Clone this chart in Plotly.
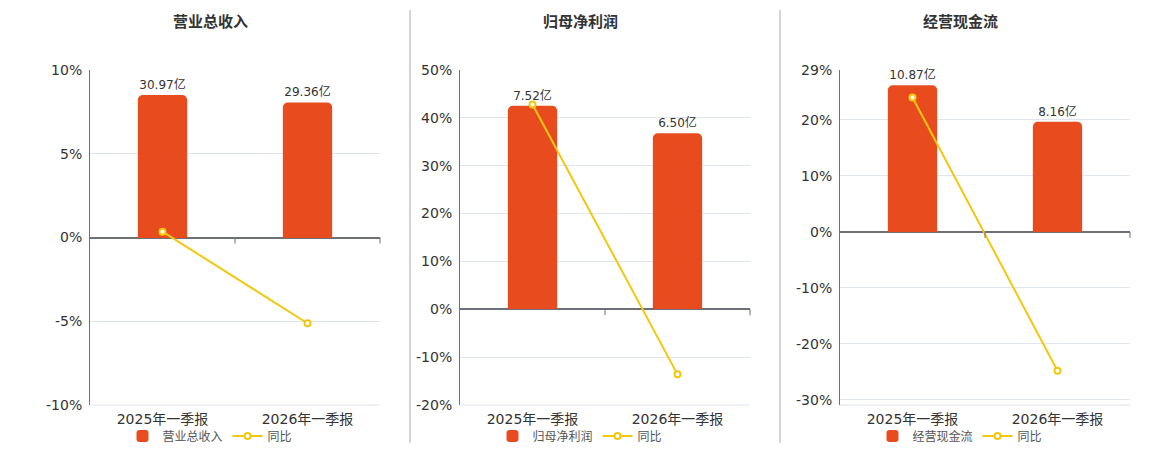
import plotly.graph_objects as go

categories = ["2025年一季报", "2026年一季报"]

titles = ["营业总收入", "归母净利润", "经营现金流"]
bar_values = [[30.97, 29.36], [7.52, 6.50], [10.87, 8.16]]
bar_labels = [["30.97亿", "29.36亿"], ["7.52亿", "6.50亿"], ["10.87亿", "8.16亿"]]
yoy_values = [[0.35, -5.12], [42.8, -13.6], [24.0, -24.8]]

y_ranges = [[-10, 10], [-20, 50], [-30.9, 28.9]]
y_ticks = [[-10, -5, 0, 5, 10], [-20, -10, 0, 10, 20, 30, 40, 50], [-30, -20, -10, 0, 10, 20, 28.9]]
y_ticktext = [["-10%", "-5%", "0%", "5%", "10%"],
              ["-20%", "-10%", "0%", "10%", "20%", "30%", "40%", "50%"],
              ["-30%", "-20%", "-10%", "0%", "10%", "20%", "29%"]]
bar_ranges = [[-36.2, 36.4], [-3.55, 8.84], [-12.8, 12.0]]

BAR = "#E84C1E"
LINE = "#F2C80F"
FONT = "DejaVu Sans, Noto Sans CJK SC, sans-serif"

x_domains = [[90 / 1160, 380 / 1160], [460 / 1160, 750 / 1160], [840 / 1160, 1130 / 1160]]
title_x = [210 / 1160, 580 / 1160, 960 / 1160]
y_domain = [1 - 405 / 450, 1 - 70 / 450]

fig = go.Figure()
layout = dict(
    width=1160, height=450, margin=dict(l=0, r=0, t=0, b=0, autoexpand=False),
    paper_bgcolor="white", plot_bgcolor="white",
    font=dict(family=FONT, color="#333"),
    barcornerradius=5,
    shapes=[], annotations=[],
)

for i in range(3):
    n = i + 1
    xa = "x" if n == 1 else f"x{n}"
    ybar = "y" if i == 0 else f"y{2 * i + 1}"
    ypct = f"y{2 * i + 2}"
    leg = "legend" if n == 1 else f"legend{n}"
    fig.add_trace(go.Bar(
        x=categories, y=bar_values[i], name=titles[i], xaxis=xa, yaxis=ybar,
        marker=dict(color=BAR, line=dict(width=0)), width=0.34,
        text=bar_labels[i], textposition="outside", cliponaxis=False,
        textfont=dict(size=12, color="#333"), legend=leg, hoverinfo="skip",
    ))
    fig.add_trace(go.Scatter(
        x=categories, y=yoy_values[i], name="同比", xaxis=xa, yaxis=ypct,
        mode="lines+markers", line=dict(color=LINE, width=2),
        marker=dict(symbol="circle", size=6, color="white", line=dict(color=LINE, width=2)),
        legend=leg, cliponaxis=False,
    ))
    xkey = "xaxis" if n == 1 else f"xaxis{n}"
    ybkey = "yaxis" if i == 0 else f"yaxis{2 * i + 1}"
    ypkey = f"yaxis{2 * i + 2}"
    layout[xkey] = dict(
        domain=x_domains[i], anchor=ybar,
        type="category", range=[-0.5, 1.5], showgrid=False, showline=False,
        ticks="", tickfont=dict(size=14, color="#333"), fixedrange=True,
        ticklabelstandoff=4,
    )
    layout[ybkey] = dict(
        domain=y_domain, anchor=xa, range=bar_ranges[i], showgrid=False,
        showticklabels=False, zeroline=False, showline=False, ticks="",
    )
    layout[ypkey] = dict(
        domain=y_domain, anchor=xa, overlaying=ybar, side="left",
        range=y_ranges[i], tickvals=y_ticks[i],
        ticktext=y_ticktext[i], showgrid=True, gridcolor="#E0E6F1", gridwidth=1,
        showline=True, linecolor="#6E7079", linewidth=1, ticks="",
        zeroline=True, zerolinecolor="#6E7079", zerolinewidth=2,
        tickfont=dict(size=14, color="#333"), ticklabelstandoff=4,
    )
    layout["shapes"].append(dict(
        type="line", xref=f"{xa} domain", yref=f"{ypct} domain", x0=0, x1=1, y0=0, y1=0,
        line=dict(color="#E0E6F1", width=1), layer="below",
    ))
    for xv in [0.5, 1.0]:
        layout["shapes"].append(dict(
            type="line", xref=f"{xa} domain", yref=ypct, x0=xv, x1=xv,
            ysizemode="pixel", yanchor=0, y0=0, y1=-6,
            line=dict(color="#6E7079", width=1),
        ))
    layout["annotations"].append(dict(
        text=f"<b>{titles[i]}</b>", x=title_x[i], y=1 - 22 / 450, xref="paper", yref="paper",
        showarrow=False, xanchor="center", yanchor="middle",
        font=dict(size=15, color="#333", family=FONT),
    ))
    layout[leg] = dict(
        orientation="h", x=title_x[i], y=1 - 436 / 450, xanchor="center", yanchor="middle",
        xref="paper", yref="paper", font=dict(size=12, color="#555"),
        bgcolor="rgba(0,0,0,0)", tracegroupgap=0,
    )

for xp in [410, 780]:
    layout["shapes"].append(dict(
        type="line", xref="paper", yref="paper", x0=xp / 1160, x1=xp / 1160,
        y0=1 - 443 / 450, y1=1 - 10 / 450, line=dict(color="#AAAAAA", width=1),
    ))

fig.update_layout(**layout)
fig.write_html("out.html", config={"displayModeBar": False},
               post_script="document.body.style.margin='0';")
